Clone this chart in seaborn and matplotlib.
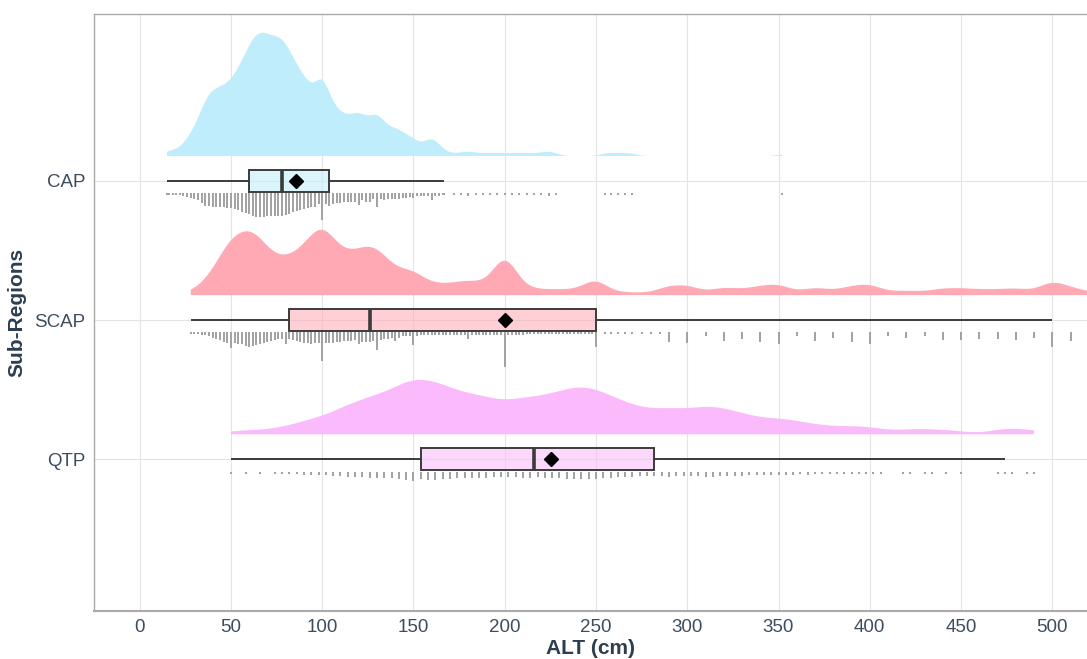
import numpy as np
import pandas as pd
import matplotlib
matplotlib.use('Agg')
import matplotlib.pyplot as plt
import matplotlib.transforms as mtransforms
import seaborn as sns

# ---- data (ALT values in cm and how many observations sit at each) ----
regions = ['CAP', 'SCAP', 'QTP']
cloud_colors = ['#BFEDFC', '#FFA9B5', '#FBBAFB']

cap_grid = np.arange(16, 168, 2)
cap_grid_n = [1, 1, 1, 1, 2, 3, 4, 5, 6, 8,
              11, 11, 12, 12, 12, 12, 13, 13, 14, 15,
              17, 18, 19, 21, 22, 22, 22, 21, 21, 21,
              21, 21, 20, 19, 17, 16, 15, 14, 13, 12,
              12, 9, 24, 9, 11, 9, 8, 8, 7, 7,
              7, 7, 10, 6, 7, 7, 5, 12, 5, 6,
              5, 5, 5, 5, 4, 4, 3, 4, 2, 2,
              2, 2, 6, 2, 2, 1]
cap_tail = [15, 167, 172, 176, 180, 184, 188, 192, 196, 200, 204, 208,
            212, 216, 220, 224, 228, 255, 258, 262, 266, 270, 352]
cap_tail_n = [1, 1, 1, 1, 2, 1, 1, 1, 1, 1, 1, 1,
              1, 1, 1, 2, 1, 1, 1, 1, 1, 1, 1]

scap_grid = np.arange(28, 250, 2)
scap_grid_n = [1, 1, 1, 2, 2, 3, 4, 5, 6, 8,
               9, 14, 9, 10, 10, 12, 13, 12, 11, 10,
               9, 8, 7, 6, 5, 5, 10, 5, 6, 7,
               8, 9, 9, 10, 9, 9, 26, 9, 9, 9,
               8, 8, 7, 7, 7, 6, 10, 8, 8, 8,
               7, 16, 6, 5, 5, 4, 7, 4, 3, 3,
               3, 11, 3, 2, 2, 2, 2, 2, 2, 2,
               2, 2, 2, 2, 2, 2, 5, 2, 2, 2,
               2, 2, 2, 2, 2, 2, 32, 2, 2, 2,
               2, 2, 1, 1, 1, 1, 1, 1, 1, 1,
               1, 1, 1, 1, 1, 1, 1, 1, 1, 1, 1]
scap_tail = [250, 255, 258, 262, 266, 270, 275, 280, 285,
             290, 300, 310, 320, 330, 340, 350, 360, 370, 380, 390, 400,
             410, 420, 430, 440, 450, 460, 470, 480, 490, 500, 510,
             520, 530, 550, 600, 650, 700, 750, 800, 900, 1000, 1200]
scap_tail_n = [13, 1, 1, 1, 1, 1, 1, 1, 1,
               8, 9, 3, 7, 5, 8, 10, 3, 7, 4, 8, 10,
               3, 4, 3, 6, 6, 5, 5, 6, 4, 13, 7,
               3, 2, 4, 6, 4, 5, 3, 4, 3, 4, 3]

qtp_grid = np.arange(50, 494, 4)
qtp_grid_n = [1, 0, 1, 0, 1, 0, 1, 1, 1, 1, 2, 2, 2,
              2, 3, 3, 4, 4, 4, 5, 5, 5, 5, 6, 7, 8,
              6, 7, 7, 6, 6, 5, 5, 5, 5, 5, 4, 4, 4, 4, 5, 5,
              4, 5, 5, 5, 6, 6, 6, 6, 6, 5, 5, 4, 4, 4, 3, 3,
              3, 3, 4, 3, 3,
              3, 3, 4, 4, 3, 3, 3, 3, 2, 2, 2, 2, 2,
              2, 2, 1, 2, 1, 1, 1, 1, 1, 1, 1, 1, 1,
              1, 0, 0, 1, 1, 0, 1, 1, 0, 1, 0, 1, 0, 0, 0, 0, 1, 1, 1, 0, 1, 1]

region_values = {
    'CAP': (np.concatenate([cap_grid, cap_tail]), cap_grid_n + cap_tail_n),
    'SCAP': (np.concatenate([scap_grid, scap_tail]), scap_grid_n + scap_tail_n),
    'QTP': (qtp_grid, qtp_grid_n),
}

# raw observations
df = pd.concat([
    pd.DataFrame({'Region': reg, 'ALT': np.repeat(vals, cnts)})
    for reg, (vals, cnts) in region_values.items()
], ignore_index=True)

# stacked "rain" dots below each box
DOT_GAP = 0.095
DOT_STEP = 0.0076
rows = []
for i, reg in enumerate(regions):
    vals, cnts = region_values[reg]
    for v, c in zip(vals, cnts):
        for k in range(c):
            rows.append((v, i + DOT_GAP + k * DOT_STEP))
dots = pd.DataFrame(rows, columns=['ALT', 'Y'])

# ---- style ----
sns.set_style('whitegrid')
plt.rcParams['font.family'] = ['Liberation Sans', 'DejaVu Sans']
text_col = '#2C3E50'

fig = plt.figure(figsize=(10.87, 6.59), dpi=100)
ax = fig.add_axes([0.0865, 0.0728, 0.9135, 0.906])

# half violins ("clouds"), each with its own bandwidth, lifted above the box
CLOUD_GAP = 0.18
bw_adjusts = [0.33, 0.13, 0.30]
cloud_heights = [0.885, 0.47, 0.39]
for i, reg in enumerate(regions):
    before = len(ax.collections)
    sns.violinplot(data=df[df['Region'] == reg], x='ALT', y='Region', order=regions,
                   split=True, inner=None, cut=0, bw_adjust=bw_adjusts[i],
                   gridsize=1000, density_norm='width', width=cloud_heights[i],
                   color=cloud_colors[i], saturation=1, linewidth=0, ax=ax)
    # a split violin without hue sits with its flat side at pos + width / 2
    shift = mtransforms.Affine2D().translate(0, -(cloud_heights[i] / 2 + CLOUD_GAP)) + ax.transData
    for coll in ax.collections[before:]:
        coll.set_transform(shift)
        coll.set_edgecolor('none')

# boxplots
sns.boxplot(data=df, x='ALT', y='Region', order=regions, hue='Region', hue_order=regions,
            palette=cloud_colors, width=0.16, showfliers=False, showcaps=False,
            showmeans=True,
            meanprops=dict(marker='D', markerfacecolor='black', markeredgecolor='black',
                           markersize=7),
            medianprops=dict(linewidth=2.6), linecolor='#3B3B3B', linewidth=1.4,
            saturation=1, legend=False, ax=ax)
for p in ax.patches:
    p.set_facecolor(tuple(p.get_facecolor()[:3]) + (0.55,))

# rain
sns.scatterplot(data=dots, x='ALT', y='Y', color='#A3A3A3', marker='s', s=3.8,
                linewidth=0, ax=ax, zorder=1)

# ---- axes ----
ax.set_xlim(-25, 519)
ax.set_ylim(3.09, -1.2)
ax.set_xticks(range(0, 501, 50))
ax.set_yticks(range(len(regions)), regions)
ax.tick_params(axis='both', length=0, labelsize=13.5, labelcolor='#3D4D5F', pad=6)
ax.grid(True, color='#E4E4E4', linewidth=0.8)
ax.set_axisbelow(True)
for side in ['left', 'bottom', 'top']:
    ax.spines[side].set_visible(True)
    ax.spines[side].set_color('#AAAAAA')
    ax.spines[side].set_linewidth(1)
ax.spines['bottom'].set_linewidth(1.5)
ax.spines['right'].set_visible(False)
ax.set_xlabel('ALT (cm)', fontsize=15, fontweight='bold', color=text_col, labelpad=2)
ax.set_ylabel('Sub-Regions', fontsize=15, fontweight='bold', color=text_col, labelpad=6)

fig.savefig('out.png', dpi=100)
